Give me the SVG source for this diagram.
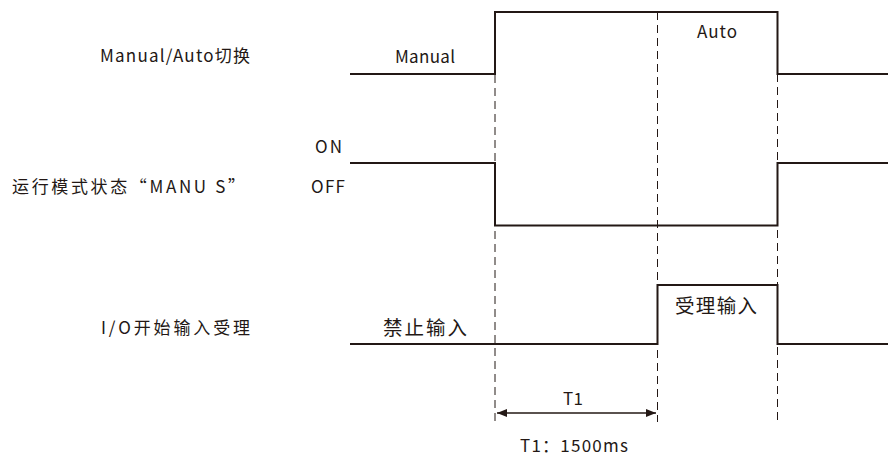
<svg xmlns="http://www.w3.org/2000/svg" width="888" height="459" viewBox="0 0 888 459">
<style>
.t{font-family:"Noto Sans CJK SC","Noto Sans",sans-serif;fill:#231815;font-size:17px}
.c{font-size:19.5px}
.sig{fill:none;stroke:#231815;stroke-width:2}
.dash{fill:none;stroke:#231815;stroke-width:1;stroke-dasharray:8,5}
.arr{stroke:#231815;stroke-width:1.5}
</style>
<defs>
<marker id="ah" viewBox="0 0 10 10" refX="10" refY="5" markerWidth="10" markerHeight="10" markerUnits="userSpaceOnUse" orient="auto-start-reverse">
<path d="M0,1 L10,5 L0,9 Z" fill="#231815"/>
</marker>
</defs>
<rect width="888" height="459" fill="#fff"/>
<g id="labels">
<text class="t" x="100" y="62" textLength="150" lengthAdjust="spacing">Manual/Auto切换</text>
<text class="t" x="12" y="193" textLength="233" lengthAdjust="spacing">运行模式状态“MANU S”</text>
<text class="t" x="101" y="334" textLength="149" lengthAdjust="spacing">I/O开始输入受理</text>
</g>
<g id="connectors">
<path class="dash" d="M495,75 V422"/>
<path class="dash" d="M657.5,12 V422"/>
<path class="dash" d="M777.5,74 V422"/>
<line class="arr" x1="497" y1="413" x2="656" y2="413" marker-start="url(#ah)" marker-end="url(#ah)"/>
</g>
<g id="signal-manual-auto">
<path class="sig" d="M350,74 H495 V12 H777.5 V74 H888"/>
<text class="t" x="395" y="63" textLength="60" lengthAdjust="spacing">Manual</text>
<text class="t" x="697" y="38" textLength="40" lengthAdjust="spacing">Auto</text>
</g>
<g id="signal-manu-s">
<path class="sig" d="M350,163 H495 V225.5 H777.5 V163 H888"/>
<text class="t" x="315" y="153" textLength="27" lengthAdjust="spacing">ON</text>
<text class="t" x="311" y="193" textLength="34" lengthAdjust="spacing">OFF</text>
</g>
<g id="signal-io">
<path class="sig" d="M350,344 H657.5 V285 H777.5 V344 H888"/>
<text class="t c" x="383" y="335" textLength="84" lengthAdjust="spacing">禁止输入</text>
<text class="t c" x="675" y="313" textLength="82" lengthAdjust="spacing">受理输入</text>
</g>
<g id="timing">
<text class="t" x="563" y="405" textLength="20" lengthAdjust="spacing">T1</text>
<text class="t" x="520" y="452" textLength="108" lengthAdjust="spacing">T1：1500ms</text>
</g>
</svg>
